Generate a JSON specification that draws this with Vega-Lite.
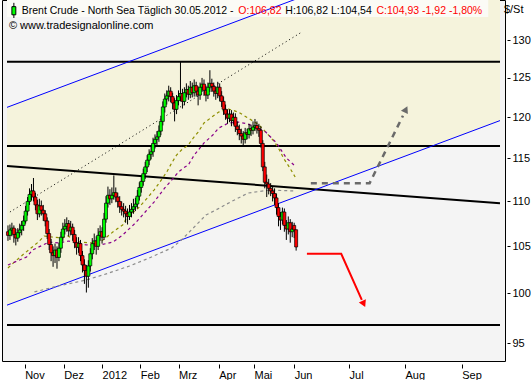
{
"$schema": "https://vega.github.io/schema/vega-lite/v6.json",
"width": 503, "height": 361,
"autosize": {"type": "none"},
"padding": {"left": 2, "top": 0, "right": 26, "bottom": 19},
"background": "#ffffff",
"config": {
 "view": {"stroke": "#000000", "strokeWidth": 1, "fill": "#f4f4f4"},
 "font": "Liberation Sans",
 "axis": {"grid": false, "domain": false, "labelFont": "Liberation Sans", "labelFontSize": 11, "labelColor": "#000000", "tickColor": "#000000", "tickWidth": 1}
},
"datasets": {
 "band": [{"k": -0.5, "lo": 98.8, "up": 121.25}, {"k": 251, "lo": 119.6, "up": 146.8}],
 "black": [
  {"s": "h1", "k": -0.5, "p": 127.1}, {"s": "h1", "k": 251, "p": 127.1},
  {"s": "h2", "k": -0.5, "p": 116.5}, {"s": "h2", "k": 251, "p": 116.5},
  {"s": "h3", "k": -0.5, "p": 96.8}, {"s": "h3", "k": 251, "p": 96.8},
  {"s": "tr", "k": -0.5, "p": 114.1}, {"s": "tr", "k": 251, "p": 109.8}
 ],
 "blue": [
  {"s": "u", "k": -0.5, "p": 121.25}, {"s": "u", "k": 251, "p": 146.8},
  {"s": "l", "k": -0.5, "p": 98.8}, {"s": "l", "k": 251, "p": 119.6}
 ],
 "dotted": [{"k": 1, "p": 108.8}, {"k": 150, "p": 131.1}],
 "ma": [
  {"s": "a", "k": 0, "p": 102.68}, {"s": "a", "k": 4.5, "p": 103.53}, {"s": "a", "k": 8, "p": 104.17}, {"s": "a", "k": 15.5, "p": 105.47}, {"s": "a", "k": 18.5, "p": 106.13}, {"s": "a", "k": 22.5, "p": 106.02}, {"s": "a", "k": 27.5, "p": 105.91}, {"s": "a", "k": 30.5, "p": 106.13}, {"s": "a", "k": 36.5, "p": 105.47}, {"s": "a", "k": 43.5, "p": 105.37}, {"s": "a", "k": 48.5, "p": 105.69}, {"s": "a", "k": 53.5, "p": 106.57}, {"s": "a", "k": 58.5, "p": 107.35}, {"s": "a", "k": 60.5, "p": 108.13}, {"s": "a", "k": 66.5, "p": 109.25}, {"s": "a", "k": 71, "p": 110.38}, {"s": "a", "k": 74.5, "p": 111.3}, {"s": "a", "k": 77.5, "p": 112.23}, {"s": "a", "k": 81, "p": 113.4}, {"s": "a", "k": 83.5, "p": 114.46}, {"s": "a", "k": 86, "p": 115.41}, {"s": "a", "k": 88.5, "p": 116.01}, {"s": "a", "k": 92, "p": 116.62}, {"s": "a", "k": 94.5, "p": 117.46}, {"s": "a", "k": 97, "p": 118.19}, {"s": "a", "k": 100, "p": 119.3}, {"s": "a", "k": 104, "p": 120.04}, {"s": "a", "k": 107.5, "p": 120.66}, {"s": "a", "k": 112.5, "p": 121.04}, {"s": "a", "k": 117.5, "p": 120.66}, {"s": "a", "k": 122.5, "p": 119.91}, {"s": "a", "k": 127.5, "p": 119.17}, {"s": "a", "k": 131.5, "p": 118.19}, {"s": "a", "k": 136, "p": 116.98}, {"s": "a", "k": 138.5, "p": 116.01}, {"s": "a", "k": 140.5, "p": 115.06}, {"s": "a", "k": 143.5, "p": 113.99}, {"s": "a", "k": 146.5, "p": 112.81},
  {"s": "b", "k": 0, "p": 103.0}, {"s": "b", "k": 9.5, "p": 103.85}, {"s": "b", "k": 12.5, "p": 104.6}, {"s": "b", "k": 21, "p": 105.47}, {"s": "b", "k": 26, "p": 105.37}, {"s": "b", "k": 31, "p": 105.58}, {"s": "b", "k": 40, "p": 105.15}, {"s": "b", "k": 47, "p": 105.15}, {"s": "b", "k": 53.5, "p": 105.47}, {"s": "b", "k": 58.5, "p": 106.24}, {"s": "b", "k": 65, "p": 107.57}, {"s": "b", "k": 70, "p": 108.8}, {"s": "b", "k": 74.5, "p": 109.93}, {"s": "b", "k": 80, "p": 111.54}, {"s": "b", "k": 83.5, "p": 112.46}, {"s": "b", "k": 87, "p": 113.4}, {"s": "b", "k": 89.5, "p": 113.87}, {"s": "b", "k": 92, "p": 114.23}, {"s": "b", "k": 95, "p": 115.41}, {"s": "b", "k": 100, "p": 116.86}, {"s": "b", "k": 104.5, "p": 117.83}, {"s": "b", "k": 107.5, "p": 118.68}, {"s": "b", "k": 112.5, "p": 119.3}, {"s": "b", "k": 117.5, "p": 119.42}, {"s": "b", "k": 122.5, "p": 119.17}, {"s": "b", "k": 127.5, "p": 118.68}, {"s": "b", "k": 131.5, "p": 118.19}, {"s": "b", "k": 137, "p": 116.86}, {"s": "b", "k": 142, "p": 115.06}, {"s": "b", "k": 147, "p": 113.99},
  {"s": "c", "k": 13.5, "p": 100.16}, {"s": "c", "k": 23.5, "p": 100.68}, {"s": "c", "k": 40, "p": 101.41}, {"s": "c", "k": 48.5, "p": 101.94}, {"s": "c", "k": 56, "p": 102.46}, {"s": "c", "k": 62, "p": 102.89}, {"s": "c", "k": 72, "p": 103.74}, {"s": "c", "k": 83.5, "p": 104.82}, {"s": "c", "k": 88.5, "p": 105.69}, {"s": "c", "k": 101, "p": 108.46}, {"s": "c", "k": 106, "p": 109.02}, {"s": "c", "k": 113.5, "p": 109.93}, {"s": "c", "k": 122.5, "p": 110.96}, {"s": "c", "k": 133.5, "p": 111.3}, {"s": "c", "k": 147, "p": 111.19}
 ],
 "garrow": [{"k": 154.5, "p": 112.1}, {"k": 184.5, "p": 112.1}, {"k": 201.5, "p": 120.2}],
 "rarrow": [{"k": 152.5, "p": 104.2}, {"k": 170, "p": 104.2}, {"k": 180.5, "p": 99.35}],
 "candles": [
  {"k":0,"o":106.6,"h":107.3,"l":105.6,"c":106.2},
  {"k":1,"o":106.2,"h":107.4,"l":105.7,"c":106.8},
  {"k":2,"o":106.8,"h":107.6,"l":106.1,"c":107.0},
  {"k":3,"o":107.0,"h":107.3,"l":105.4,"c":106.3},
  {"k":4,"o":106.3,"h":106.9,"l":105.1,"c":105.9},
  {"k":5,"o":105.9,"h":107.0,"l":105.5,"c":106.5},
  {"k":6,"o":106.5,"h":107.5,"l":106.0,"c":106.8},
  {"k":7,"o":106.8,"h":107.8,"l":106.2,"c":107.3},
  {"k":8,"o":107.3,"h":108.4,"l":106.7,"c":107.8},
  {"k":9,"o":107.8,"h":109.5,"l":107.5,"c":108.9},
  {"k":10,"o":108.9,"h":110.5,"l":108.4,"c":110.0},
  {"k":11,"o":110.0,"h":111.5,"l":109.6,"c":110.8},
  {"k":12,"o":110.8,"h":112.0,"l":110.1,"c":111.2},
  {"k":13,"o":111.2,"h":112.7,"l":110.0,"c":110.5},
  {"k":14,"o":110.5,"h":111.0,"l":109.0,"c":109.6},
  {"k":15,"o":109.6,"h":110.2,"l":107.9,"c":108.6},
  {"k":16,"o":108.6,"h":110.3,"l":108.2,"c":109.5},
  {"k":17,"o":109.5,"h":110.1,"l":108.4,"c":109.0},
  {"k":18,"o":109.0,"h":109.6,"l":107.8,"c":108.6},
  {"k":19,"o":108.6,"h":109.0,"l":107.2,"c":107.8},
  {"k":20,"o":107.8,"h":108.2,"l":105.8,"c":106.4},
  {"k":21,"o":106.4,"h":106.9,"l":104.6,"c":105.2},
  {"k":22,"o":105.2,"h":105.8,"l":103.4,"c":104.3},
  {"k":23,"o":104.3,"h":105.0,"l":102.8,"c":104.0},
  {"k":24,"o":104.0,"h":105.3,"l":103.2,"c":104.6},
  {"k":25,"o":104.6,"h":105.0,"l":102.6,"c":103.8},
  {"k":26,"o":103.8,"h":105.4,"l":103.4,"c":104.8},
  {"k":27,"o":104.8,"h":106.6,"l":104.3,"c":106.0},
  {"k":28,"o":106.0,"h":107.6,"l":105.6,"c":106.9},
  {"k":29,"o":106.9,"h":108.0,"l":106.3,"c":107.2},
  {"k":30,"o":107.2,"h":108.2,"l":106.6,"c":107.5},
  {"k":31,"o":107.5,"h":107.9,"l":106.1,"c":106.7},
  {"k":32,"o":106.7,"h":107.8,"l":106.2,"c":107.1},
  {"k":33,"o":107.1,"h":107.5,"l":105.6,"c":106.3},
  {"k":34,"o":106.3,"h":106.8,"l":104.8,"c":105.4},
  {"k":35,"o":105.4,"h":106.0,"l":104.1,"c":104.9},
  {"k":36,"o":104.9,"h":106.0,"l":104.3,"c":105.3},
  {"k":37,"o":105.3,"h":105.7,"l":103.4,"c":104.0},
  {"k":38,"o":104.0,"h":104.5,"l":102.2,"c":103.0},
  {"k":39,"o":103.0,"h":103.6,"l":101.0,"c":102.4},
  {"k":40,"o":102.4,"h":103.0,"l":100.1,"c":101.8},
  {"k":41,"o":101.8,"h":103.5,"l":100.6,"c":102.9},
  {"k":42,"o":102.9,"h":104.8,"l":102.3,"c":104.2},
  {"k":43,"o":104.2,"h":105.9,"l":103.6,"c":105.3},
  {"k":44,"o":105.3,"h":106.4,"l":104.6,"c":105.6},
  {"k":45,"o":105.6,"h":106.1,"l":104.1,"c":105.0},
  {"k":46,"o":105.0,"h":107.0,"l":104.6,"c":106.2},
  {"k":47,"o":106.2,"h":107.3,"l":105.6,"c":106.6},
  {"k":48,"o":106.6,"h":107.1,"l":105.3,"c":106.0},
  {"k":49,"o":106.0,"h":108.7,"l":105.7,"c":108.0},
  {"k":50,"o":108.0,"h":110.6,"l":107.6,"c":109.8},
  {"k":51,"o":109.8,"h":111.7,"l":109.3,"c":110.7},
  {"k":52,"o":110.7,"h":111.4,"l":109.6,"c":110.3},
  {"k":53,"o":110.3,"h":111.6,"l":109.8,"c":110.7},
  {"k":54,"o":110.7,"h":113.0,"l":110.2,"c":111.0},
  {"k":55,"o":111.0,"h":111.6,"l":109.9,"c":110.5},
  {"k":56,"o":110.5,"h":111.0,"l":109.3,"c":110.0},
  {"k":57,"o":110.0,"h":110.6,"l":108.7,"c":109.4},
  {"k":58,"o":109.4,"h":110.0,"l":108.4,"c":109.1},
  {"k":59,"o":109.1,"h":109.8,"l":108.2,"c":108.9},
  {"k":60,"o":108.9,"h":109.5,"l":107.6,"c":108.6},
  {"k":61,"o":108.6,"h":109.2,"l":107.4,"c":108.3},
  {"k":62,"o":108.3,"h":109.6,"l":107.9,"c":108.8},
  {"k":63,"o":108.8,"h":109.8,"l":108.2,"c":109.1},
  {"k":64,"o":109.1,"h":110.3,"l":108.6,"c":109.4},
  {"k":65,"o":109.4,"h":110.4,"l":108.9,"c":109.7},
  {"k":66,"o":109.7,"h":111.3,"l":109.2,"c":110.6},
  {"k":67,"o":110.6,"h":112.2,"l":110.1,"c":111.6},
  {"k":68,"o":111.6,"h":112.9,"l":111.0,"c":112.3},
  {"k":69,"o":112.3,"h":113.8,"l":111.8,"c":113.2},
  {"k":70,"o":113.2,"h":114.6,"l":112.6,"c":114.0},
  {"k":71,"o":114.0,"h":115.4,"l":113.4,"c":114.8},
  {"k":72,"o":114.8,"h":116.1,"l":114.2,"c":115.5},
  {"k":73,"o":115.5,"h":116.5,"l":114.9,"c":115.8},
  {"k":74,"o":115.8,"h":117.5,"l":115.2,"c":116.8},
  {"k":75,"o":116.8,"h":117.9,"l":116.2,"c":117.3},
  {"k":76,"o":117.3,"h":118.3,"l":116.6,"c":117.6},
  {"k":77,"o":117.6,"h":119.0,"l":117.0,"c":118.3},
  {"k":78,"o":118.3,"h":120.2,"l":117.8,"c":119.5},
  {"k":79,"o":119.5,"h":122.0,"l":119.0,"c":121.3},
  {"k":80,"o":121.3,"h":123.0,"l":120.6,"c":122.3},
  {"k":81,"o":122.3,"h":123.4,"l":121.6,"c":122.7},
  {"k":82,"o":122.7,"h":124.0,"l":122.0,"c":123.3},
  {"k":83,"o":123.3,"h":123.8,"l":121.9,"c":122.6},
  {"k":84,"o":122.6,"h":123.1,"l":121.0,"c":121.8},
  {"k":85,"o":121.8,"h":122.4,"l":119.5,"c":121.0},
  {"k":86,"o":121.0,"h":122.8,"l":120.4,"c":122.1},
  {"k":87,"o":122.1,"h":123.4,"l":121.5,"c":122.6},
  {"k":88,"o":122.6,"h":127.2,"l":122.0,"c":123.0},
  {"k":89,"o":123.0,"h":123.6,"l":121.1,"c":122.0},
  {"k":90,"o":122.0,"h":123.8,"l":121.5,"c":123.1},
  {"k":91,"o":123.1,"h":124.3,"l":122.5,"c":123.5},
  {"k":92,"o":123.5,"h":124.0,"l":122.2,"c":122.9},
  {"k":93,"o":122.9,"h":124.6,"l":122.4,"c":123.8},
  {"k":94,"o":123.8,"h":124.4,"l":122.5,"c":123.1},
  {"k":95,"o":123.1,"h":124.8,"l":122.6,"c":124.0},
  {"k":96,"o":124.0,"h":124.5,"l":122.6,"c":123.3},
  {"k":97,"o":123.3,"h":123.9,"l":121.5,"c":122.8},
  {"k":98,"o":122.8,"h":124.4,"l":122.2,"c":123.8},
  {"k":99,"o":123.8,"h":125.0,"l":123.2,"c":124.2},
  {"k":100,"o":124.2,"h":124.8,"l":122.7,"c":123.4},
  {"k":101,"o":123.4,"h":124.0,"l":122.0,"c":122.8},
  {"k":102,"o":122.8,"h":124.4,"l":122.3,"c":123.8},
  {"k":103,"o":123.8,"h":126.0,"l":123.2,"c":124.3},
  {"k":104,"o":124.3,"h":124.9,"l":123.2,"c":123.9},
  {"k":105,"o":123.9,"h":124.4,"l":122.6,"c":123.3},
  {"k":106,"o":123.3,"h":123.9,"l":122.2,"c":123.0},
  {"k":107,"o":123.0,"h":124.5,"l":122.4,"c":123.8},
  {"k":108,"o":123.8,"h":124.3,"l":122.0,"c":122.7},
  {"k":109,"o":122.7,"h":123.3,"l":121.3,"c":122.0},
  {"k":110,"o":122.0,"h":122.6,"l":120.3,"c":121.0},
  {"k":111,"o":121.0,"h":121.6,"l":119.7,"c":120.4},
  {"k":112,"o":120.4,"h":121.0,"l":119.2,"c":119.9},
  {"k":113,"o":119.9,"h":121.0,"l":119.4,"c":120.4},
  {"k":114,"o":120.4,"h":120.9,"l":118.9,"c":119.6},
  {"k":115,"o":119.6,"h":120.6,"l":119.1,"c":120.0},
  {"k":116,"o":120.0,"h":120.5,"l":118.2,"c":118.9},
  {"k":117,"o":118.9,"h":119.5,"l":117.8,"c":118.5},
  {"k":118,"o":118.5,"h":119.1,"l":117.2,"c":118.0},
  {"k":119,"o":118.0,"h":118.6,"l":116.8,"c":117.7},
  {"k":120,"o":117.7,"h":118.3,"l":116.5,"c":117.3},
  {"k":121,"o":117.3,"h":118.7,"l":116.8,"c":118.1},
  {"k":122,"o":118.1,"h":118.6,"l":117.3,"c":117.9},
  {"k":123,"o":117.9,"h":119.2,"l":117.4,"c":118.6},
  {"k":124,"o":118.6,"h":119.1,"l":117.7,"c":118.4},
  {"k":125,"o":118.4,"h":119.5,"l":117.9,"c":118.8},
  {"k":126,"o":118.8,"h":119.8,"l":118.3,"c":119.0},
  {"k":127,"o":119.0,"h":119.5,"l":118.0,"c":118.6},
  {"k":128,"o":118.6,"h":119.2,"l":117.6,"c":118.4},
  {"k":129,"o":118.4,"h":118.9,"l":116.3,"c":116.8},
  {"k":130,"o":116.8,"h":117.2,"l":113.5,"c":114.0},
  {"k":131,"o":114.0,"h":114.6,"l":111.5,"c":112.2},
  {"k":132,"o":112.2,"h":113.1,"l":110.5,"c":112.0},
  {"k":133,"o":112.0,"h":112.6,"l":110.8,"c":111.5},
  {"k":134,"o":111.5,"h":112.1,"l":110.6,"c":111.2},
  {"k":135,"o":111.2,"h":111.7,"l":110.0,"c":110.9},
  {"k":136,"o":110.9,"h":111.5,"l":109.6,"c":110.4},
  {"k":137,"o":110.4,"h":110.9,"l":108.5,"c":109.3},
  {"k":138,"o":109.3,"h":109.8,"l":107.2,"c":108.3},
  {"k":139,"o":108.3,"h":108.8,"l":106.8,"c":107.9},
  {"k":140,"o":107.9,"h":109.3,"l":107.4,"c":108.8},
  {"k":141,"o":108.8,"h":109.2,"l":106.6,"c":107.3},
  {"k":142,"o":107.3,"h":107.9,"l":105.7,"c":106.9},
  {"k":143,"o":106.9,"h":108.3,"l":106.3,"c":107.6},
  {"k":144,"o":107.6,"h":108.0,"l":105.4,"c":106.6},
  {"k":145,"o":106.6,"h":107.7,"l":106.0,"c":106.9},
  {"k":146,"o":107.3,"h":107.6,"l":105.9,"c":106.8},
  {"k":147,"o":106.82,"h":106.82,"l":104.54,"c":104.93}
 ]
},
"layer": [
 {"data": {"name": "band"}, "mark": {"type": "area", "color": "#f5f3dc", "clip": true, "orient": "vertical"},
  "encoding": {
   "x": {"field": "k", "type": "quantitative", "title": null,
    "scale": {"domain": [-0.5, 251], "nice": false, "zero": false},
    "axis": {"values": [8.5, 28.5, 48, 67.5, 87, 107.5, 125.5, 146, 174, 202.5, 231.5],
     "labelExpr": "['Nov','Dez','2012','Feb','Mrz','Apr','Mai','Jun','Jul','Aug','Sep'][indexof([8.5,28.5,48,67.5,87,107.5,125.5,146,174,202.5,231.5], datum.value)]",
     "tickSize": 4, "offset": 3, "labelAlign": "left", "labelDx": -1, "labelPadding": 1, "labelBaseline": "top",
     "labelOverlap": false, "labelFlush": false, "labelBound": false}},
   "y": {"field": "lo", "type": "quantitative", "title": null,
    "scale": {"type": "log", "domain": [93.25, 135.5], "nice": false},
    "axis": {"orient": "right", "values": [95, 100, 105, 110, 115, 120, 125, 130], "format": "d",
     "tickSize": 3, "offset": 2, "labelPadding": 2, "labelOverlap": false, "labelBound": false, "labelFlush": false}},
   "y2": {"field": "up"}}},
 {"data": {"values": [{"t": "box"}]}, "mark": {"type": "rect", "fill": "#fbfbf6"},
  "encoding": {"x": {"datum": -0.5, "type": "quantitative"}, "x2": {"datum": 245}, "y": {"datum": 135.5, "type": "quantitative"}, "y2": {"datum": 133.13}}},
 {"data": {"name": "black"}, "mark": {"type": "line", "color": "#000000", "strokeWidth": 2, "clip": true},
  "encoding": {"x": {"field": "k", "type": "quantitative"}, "y": {"field": "p", "type": "quantitative", "title": null}, "detail": {"field": "s"}}},
 {"data": {"name": "blue"}, "mark": {"type": "line", "color": "#0000ff", "strokeWidth": 1, "clip": true},
  "encoding": {"x": {"field": "k", "type": "quantitative"}, "y": {"field": "p", "type": "quantitative", "title": null}, "detail": {"field": "s"}}},
 {"data": {"name": "dotted"}, "mark": {"type": "line", "color": "#000000", "strokeWidth": 1, "strokeDash": [1, 3], "clip": true},
  "encoding": {"x": {"field": "k", "type": "quantitative"}, "y": {"field": "p", "type": "quantitative", "title": null}}},
 {"data": {"name": "ma"}, "mark": {"type": "line", "strokeWidth": 1.2, "strokeDash": [3, 3], "clip": true},
  "encoding": {"x": {"field": "k", "type": "quantitative"}, "y": {"field": "p", "type": "quantitative", "title": null},
   "color": {"field": "s", "type": "nominal", "legend": null,
   "scale": {"domain": ["a", "b", "c"], "range": ["#8f8f00", "#8a008a", "#8c8c8c"]}}}},
 {"data": {"name": "candles"}, "mark": {"type": "rule", "color": "#000000", "strokeWidth": 1},
  "encoding": {"x": {"field": "k", "type": "quantitative"}, "y": {"field": "l", "type": "quantitative", "title": null}, "y2": {"field": "h"}}},
 {"data": {"name": "candles"}, "mark": {"type": "bar", "width": 3, "stroke": "#000000", "strokeWidth": 0.7},
  "encoding": {"x": {"field": "k", "type": "quantitative"}, "y": {"field": "o", "type": "quantitative", "title": null}, "y2": {"field": "c"},
   "fill": {"condition": {"test": "datum.c >= datum.o", "value": "#00ff00"}, "value": "#ff0000"}}},
 {"data": {"name": "garrow"}, "mark": {"type": "line", "color": "#6a6a6a", "strokeWidth": 2.5, "strokeDash": [6, 5]},
  "encoding": {"x": {"field": "k", "type": "quantitative"}, "y": {"field": "p", "type": "quantitative", "title": null}}},
 {"data": {"values": [{"t": "g"}]}, "mark": {"type": "point", "shape": "triangle-up", "filled": true, "color": "#6a6a6a", "size": 60, "angle": 26, "opacity": 1},
  "encoding": {"x": {"datum": 203, "type": "quantitative"}, "y": {"datum": 121.0, "type": "quantitative"}}},
 {"data": {"name": "rarrow"}, "mark": {"type": "line", "color": "#ff0000", "strokeWidth": 2},
  "encoding": {"x": {"field": "k", "type": "quantitative"}, "y": {"field": "p", "type": "quantitative", "title": null}}},
 {"data": {"values": [{"t": "r"}]}, "mark": {"type": "point", "shape": "triangle-up", "filled": true, "color": "#ff0000", "size": 60, "angle": 155, "opacity": 1},
  "encoding": {"x": {"datum": 181.5, "type": "quantitative"}, "y": {"datum": 98.93, "type": "quantitative"}}},
 {"data": {"values": [{"t": "i"}]}, "mark": {"type": "rule", "color": "#000000"},
  "encoding": {"x": {"datum": 3, "type": "quantitative"}, "y": {"datum": 135.1, "type": "quantitative"}, "y2": {"datum": 133.0}}},
 {"data": {"values": [{"t": "i"}]}, "mark": {"type": "rect", "fill": "#00ff00", "stroke": "#000000", "strokeWidth": 1},
  "encoding": {"x": {"datum": 2, "type": "quantitative"}, "x2": {"datum": 4}, "y": {"datum": 134.57, "type": "quantitative"}, "y2": {"datum": 133.44}}},
 {"data": {"values": [{"t": "Brent Crude - North Sea Täglich"}]}, "mark": {"type": "text", "align": "left", "baseline": "middle", "fontSize": 10.5, "color": "#000000"},
  "encoding": {"x": {"datum": 7, "type": "quantitative"}, "y": {"datum": 134.03, "type": "quantitative"}, "text": {"field": "t"}}},
 {"data": {"values": [{"t": "30.05.2012 -"}]}, "mark": {"type": "text", "align": "left", "baseline": "middle", "fontSize": 10.5, "color": "#000000"},
  "encoding": {"x": {"datum": 85, "type": "quantitative"}, "y": {"datum": 134.03, "type": "quantitative"}, "text": {"field": "t"}}},
 {"data": {"values": [{"t": "O:106,82"}]}, "mark": {"type": "text", "align": "left", "baseline": "middle", "fontSize": 10.5, "color": "#ff0000"},
  "encoding": {"x": {"datum": 117.5, "type": "quantitative"}, "y": {"datum": 134.03, "type": "quantitative"}, "text": {"field": "t"}}},
 {"data": {"values": [{"t": "H:106,82 L:104,54"}]}, "mark": {"type": "text", "align": "left", "baseline": "middle", "fontSize": 10.5, "color": "#000000"},
  "encoding": {"x": {"datum": 141.5, "type": "quantitative"}, "y": {"datum": 134.03, "type": "quantitative"}, "text": {"field": "t"}}},
 {"data": {"values": [{"t": "C:104,93 -1,92 -1,80%"}]}, "mark": {"type": "text", "align": "left", "baseline": "middle", "fontSize": 10.5, "color": "#ff0000"},
  "encoding": {"x": {"datum": 188, "type": "quantitative"}, "y": {"datum": 134.03, "type": "quantitative"}, "text": {"field": "t"}}},
 {"data": {"values": [{"t": "© www.tradesignalonline.com"}]}, "mark": {"type": "text", "align": "left", "baseline": "middle", "fontSize": 11, "color": "#000000"},
  "encoding": {"x": {"datum": 0.5, "type": "quantitative"}, "y": {"datum": 131.9, "type": "quantitative"}, "text": {"field": "t"}}},
 {"data": {"values": [{"t": "$/St"}]}, "mark": {"type": "text", "align": "left", "baseline": "middle", "fontSize": 11, "color": "#000000"},
  "encoding": {"x": {"datum": 253, "type": "quantitative"}, "y": {"datum": 134.07, "type": "quantitative"}, "text": {"field": "t"}}}
]
}
